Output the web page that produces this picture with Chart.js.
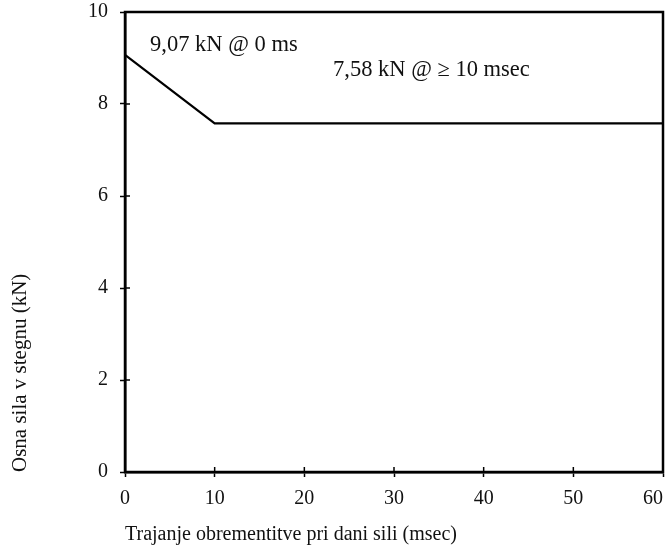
<!DOCTYPE html>
<html>
<head>
<meta charset="utf-8">
<script src="https://cdn.jsdelivr.net/npm/chart.js@4"></script>
<style>
  html, body { margin: 0; padding: 0; background: #fff; }
  #wrap { width: 669px; height: 557px; }
</style>
</head>
<body>
<div id="wrap"><canvas id="forceChart"></canvas></div>
<script>
// ---------- DATA ----------
const timeMs = [0, 10, 60];
const forceKN = [9.07, 7.58, 7.58];
const xTicks = [0, 10, 20, 30, 40, 50, 60];
const yTicks = [0, 2, 4, 6, 8, 10];
const noteLabels = ["9,07 kN @ 0 ms", "7,58 kN @ \u2265 10 msec"];
const noteX = [2.8, 23.2];
const noteY = [9.28, 8.74];

const FONT = "'Liberation Serif', 'DejaVu Serif', serif";

// frame on top/right + ticks crossing the axes + text notes
const framePlugin = {
    id: "frame",
    afterDraw(chart) {
        const { ctx, chartArea: a, scales } = chart;
        ctx.save();
        ctx.strokeStyle = "#000";
        ctx.lineWidth = 2.5;
        ctx.strokeRect(a.left, a.top, a.right - a.left, a.bottom - a.top);

        // inner half of tick marks
        ctx.lineWidth = 1.5;
        xTicks.forEach(v => {
            const x = scales.x.getPixelForValue(v);
            ctx.beginPath();
            ctx.moveTo(x, a.bottom);
            ctx.lineTo(x, a.bottom - 5);
            ctx.stroke();
        });
        yTicks.forEach(v => {
            const y = scales.y.getPixelForValue(v);
            ctx.beginPath();
            ctx.moveTo(a.left, y);
            ctx.lineTo(a.left + 5, y);
            ctx.stroke();
        });

        ctx.fillStyle = "#111";
        ctx.font = "22.5px " + FONT;
        ctx.textAlign = "left";
        ctx.textBaseline = "middle";
        noteLabels.forEach((t, i) => {
            ctx.fillText(t, scales.x.getPixelForValue(noteX[i]), scales.y.getPixelForValue(noteY[i]));
        });
        ctx.restore();
    }
};

new Chart(document.getElementById("forceChart"), {
    type: "line",
    data: {
        datasets: [{
            data: timeMs.map((t, i) => ({ x: t, y: forceKN[i] })),
            borderColor: "#000",
            borderWidth: 2.2,
            pointRadius: 0,
            tension: 0,
            fill: false
        }]
    },
    options: {
        responsive: true,
        maintainAspectRatio: false,
        animation: false,
        layout: { padding: { top: 12, right: 6, left: 0, bottom: 0 } },
        plugins: {
            legend: { display: false },
            tooltip: { enabled: false }
        },
        scales: {
            x: {
                type: "linear",
                min: 0,
                max: 60,
                afterBuildTicks: s => { s.ticks = xTicks.map(v => ({ value: v })); },
                afterFit: s => { s.height = 85; s.paddingLeft = 0; s.paddingRight = 0; },
                grid: { drawOnChartArea: false, tickLength: 5, tickWidth: 1.5, tickColor: "#000" },
                border: { display: true, color: "#000", width: 2.5 },
                ticks: {
                    color: "#111",
                    font: { family: FONT, size: 20 },
                    padding: 10,
                    maxRotation: 0,
                    // last label sits a bit left of its tick, as in the original
                    callback: v => v === 60 ? "60\u2003" : String(v)
                },
                title: {
                    display: true,
                    text: "Trajanje obrementitve pri dani sili (msec)",
                    align: "start",
                    color: "#111",
                    font: { family: FONT, size: 20 },
                    padding: { top: 4, bottom: 10 }
                }
            },
            y: {
                min: 0,
                max: 10,
                afterBuildTicks: s => { s.ticks = yTicks.map(v => ({ value: v })); },
                afterFit: s => { s.width = 125; s.paddingTop = 0; s.paddingBottom = 0; },
                grid: { drawOnChartArea: false, tickLength: 5, tickWidth: 1.5, tickColor: "#000" },
                border: { display: true, color: "#000", width: 2.5 },
                ticks: { color: "#111", font: { family: FONT, size: 20 }, padding: 12 },
                title: {
                    display: true,
                    text: "Osna sila v stegnu (kN)",
                    align: "start",
                    color: "#111",
                    font: { family: FONT, size: 21 },
                    padding: { top: 8, bottom: 0 }
                }
            }
        }
    },
    plugins: [framePlugin]
});
</script>
</body>
</html>
